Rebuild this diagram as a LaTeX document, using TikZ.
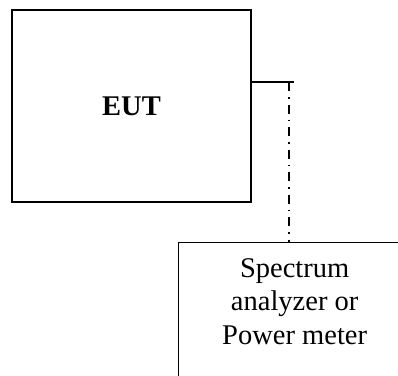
\documentclass[tikz,border=0pt]{standalone}
\usepackage{fontspec}
\setmainfont{Liberation Serif}
\usepackage{xcolor}
\definecolor{cMain}{HTML}{000000}
\usepackage{tikz}
\usetikzlibrary{positioning,calc}
\tikzset{
  node-box/.style={draw=cMain,line width=1.3pt,minimum width=239pt,minimum height=192pt,
    align=center,font=\fontsize{28.5}{33.5}\selectfont\bfseries},
  node-meter/.style={draw=cMain,line width=1.3pt,minimum width=232pt,minimum height=180pt,
    anchor=north west},
  node-text/.style={inner sep=0pt,align=center,font=\fontsize{28.5}{33.5}\selectfont},
  cable/.style={line width=1.1pt,draw=cMain},
  cable-dashdot/.style={line width=1.1pt,draw=cMain,dash pattern=on 9pt off 6pt on 1.5pt off 6pt},
}
\begin{document}
\begin{tikzpicture}[x=1pt,y=-1pt,node distance=16pt]
  \useasboundingbox (0,0) rectangle (398,375);
  \clip (0,0) rectangle (398,375);
  \node[node-box] (eut) at (131.5,106) {EUT};
  \node[node-meter] (meter) at (178,242) {};
  \node[node-text,below=of meter.north] (metertext) {Spectrum\\analyzer or\\Power meter};
  \coordinate (cableend) at (294,82);
  \coordinate (tap) at (289,82);
  \draw[cable] (eut.east |- cableend) -- (cableend);
  \draw[cable-dashdot] (tap) -- (tap |- meter.north);
\end{tikzpicture}
\end{document}
